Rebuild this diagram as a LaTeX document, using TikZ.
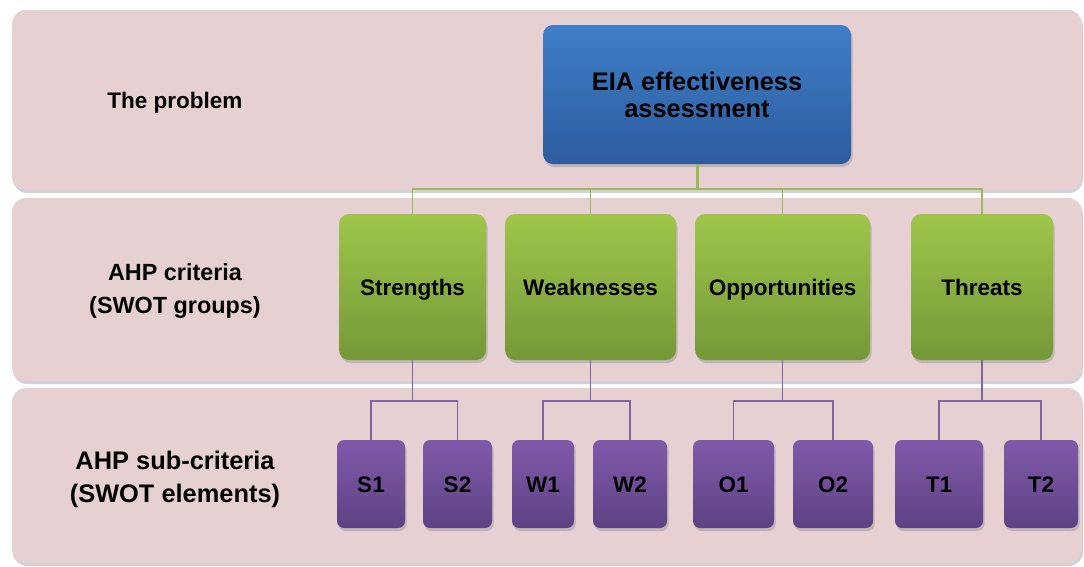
\documentclass[tikz,border=0pt]{standalone}
\usepackage{fontspec}
\setmainfont{Liberation Sans}
\usetikzlibrary{shadows}

\definecolor{bandpink}{RGB}{230,208,210}
\definecolor{bluetop}{RGB}{62,126,200}
\definecolor{bluebot}{RGB}{45,92,158}
\definecolor{greentop}{RGB}{158,198,74}
\definecolor{greenbot}{RGB}{117,152,56}
\definecolor{purptop}{RGB}{128,90,170}
\definecolor{purpbot}{RGB}{94,66,132}
\definecolor{greenline}{RGB}{155,187,89}
\definecolor{purpline}{RGB}{128,100,162}

\tikzset{
  bandbox/.style={fill=bandpink,rounded corners=14pt,
    drop shadow={opacity=0.35,shadow xshift=1pt,shadow yshift=-3pt}},
  leveltext/.style={align=center,font=\fontsize{#1}{33}\selectfont\bfseries},
  leveltext/.default=22.5,
  boxbase/.style={rounded corners=10pt,inner sep=0pt,align=center,
    font=\fontsize{22.5}{27}\selectfont\bfseries,
    drop shadow={opacity=0.35,shadow xshift=1.5pt,shadow yshift=-3pt}},
  topbox/.style={boxbase,top color=bluetop,bottom color=bluebot,
    font=\fontsize{25.4}{27}\selectfont\bfseries,
    minimum width=308pt,minimum height=139pt},
  groupbox/.style={boxbase,top color=greentop,bottom color=greenbot,
    text height=16pt,text depth=0pt,minimum height=146pt},
  elembox/.style={boxbase,rounded corners=7pt,top color=purptop,bottom color=purpbot,
    text height=16pt,text depth=0pt,minimum height=88pt},
  grnline/.style={draw=greenline,line width=1.6pt},
  purline/.style={draw=purpline,line width=1.6pt}
}

\begin{document}
\begin{tikzpicture}[x=1pt,y=-1pt]
    \useasboundingbox (0,0) rectangle (1084,566);
    \fill[white] (0,0) rectangle (1084,566);
    % the three levels
    \path[bandbox] (12,10) rectangle (1082,190);
    \path[bandbox] (12,198) rectangle (1082,381);
    \path[bandbox] (12,388) rectangle (1082,563);
    \node[leveltext] (lvlA) at (175,103) {The problem};
    \node[leveltext=23.4] (lvlB) at (175,291) {AHP criteria\\(SWOT groups)};
    \node[leveltext=25.4] (lvlC) at (175,479) {AHP sub-criteria\\(SWOT elements)};
    % goal
    \node[topbox] (goal) at (697,94.5) {EIA effectiveness\\assessment};
    % SWOT groups
    \node[groupbox,minimum width=147pt] (str) at (412.5,287) {Strengths};
    \node[groupbox,minimum width=171pt] (wea) at (590.5,287) {Weaknesses};
    \node[groupbox,minimum width=175pt] (opp) at (782.5,287) {Opportunities};
    \node[groupbox,minimum width=142pt] (thr) at (982,287) {Threats};
    % SWOT elements
    \node[elembox,minimum width=68pt] (s1) at (371,484) {S1};
    \node[elembox,minimum width=69pt] (s2) at (457.5,484) {S2};
    \node[elembox,minimum width=62pt] (w1) at (543,484) {W1};
    \node[elembox,minimum width=74pt] (w2) at (630,484) {W2};
    \node[elembox,minimum width=81pt] (o1) at (733.5,484) {O1};
    \node[elembox,minimum width=80pt] (o2) at (833,484) {O2};
    \node[elembox,minimum width=88pt] (t1) at (939,484) {T1};
    \node[elembox,minimum width=74pt] (t2) at (1041,484) {T2};
    % connectors
    \draw[grnline,line width=3pt] (goal.south) -- ++(0,25) coordinate (bus);
    \foreach \g in {str,wea,opp,thr}
      \draw[grnline] (bus) -| (\g.north);
    \foreach \g/\a/\b in {str/s1/s2,wea/w1/w2,opp/o1/o2,thr/t1/t2} {
      \draw[purline] (\g.south) -- ++(0,41) coordinate (\g-j);
      \draw[purline] (\g-j) -| (\a.north);
      \draw[purline] (\g-j) -| (\b.north);
    }
\end{tikzpicture}
\end{document}
